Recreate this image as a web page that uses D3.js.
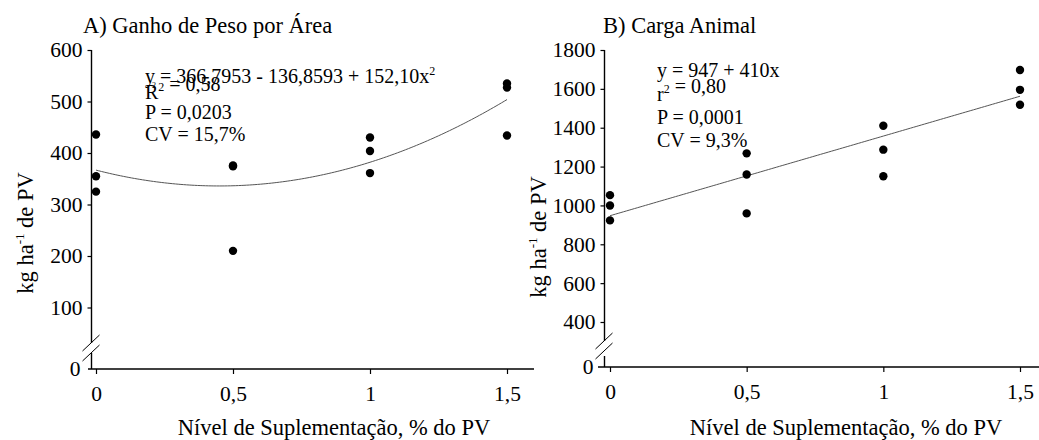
<!DOCTYPE html>
<html>
<head>
<meta charset="utf-8">
<script src="https://cdn.jsdelivr.net/npm/d3@7"></script>
<style>
  html, body { margin: 0; padding: 0; background: #fff; }
  svg { display: block; }
  svg text { font-family: "Liberation Serif", "Times New Roman", serif !important; fill: #000; }
</style>
</head>
<body>
<svg id="chart" width="1039" height="440"></svg>
<script>
// Supplementation level (% of live weight) for each paddock replicate
const suppLevels = [0, 0, 0, 0.5, 0.5, 0.5, 1, 1, 1, 1.5, 1.5, 1.5];
// A) live-weight gain per area, kg/ha
const weightGain = [436, 355, 325, 376, 374, 210, 430, 404, 361, 535, 527, 434];
// B) stocking rate, kg/ha of live weight
const stockingRate = [1053, 1000, 923, 1268, 1159, 959, 1410, 1287, 1150, 1697, 1595, 1518];

// Fitted regressions (coefficients of 1, x, x^2)
const gainCoef = [366.7953, -136.8593, 152.10];
const rateCoef = [947, 410];

// Axis ticks
const xTickValues = [0, 0.5, 1, 1.5];
const xTickLabels = ["0", "0,5", "1", "1,5"];
const gainTicks = [100, 200, 300, 400, 500, 600];
const rateTicks = [400, 600, 800, 1000, 1200, 1400, 1600, 1800];

// Annotation text
const gainTitle = "A) Ganho de Peso por Área";
const rateTitle = "B) Carga Animal";
const xTitle = "Nível de Suplementação, % do PV";

const svg = d3.select("#chart");
const TICK_FONT = 21.5;
const TITLE_FONT = 22.5;
const STAT_FONT = 20;

function poly(coef) {
  return x => coef.reduce((s, c, i) => s + c * Math.pow(x, i), 0);
}

function drawPanel(cfg) {
  const g = svg.append("g");
  const x = d3.scaleLinear().domain([0, 1.5]).range([cfg.x0, cfg.x1]);
  const y = d3.scaleLinear().domain(cfg.yDomain).range(cfg.yRange);

  // y axis ticks and labels
  const yAxis = d3.axisLeft(y).tickValues(cfg.yTicks).tickSize(4).tickPadding(5).tickFormat(d3.format("d"));
  const ya = g.append("g").attr("transform", `translate(${cfg.axisX},0)`).call(yAxis)
    .attr("font-family", null).attr("font-size", null);
  ya.select(".domain").remove();
  ya.selectAll("text").style("font-size", TICK_FONT + "px");
  ya.selectAll("line").attr("stroke", "#000").attr("stroke-width", 1.2);

  // "0" at the foot of the broken axis
  g.append("text").attr("x", cfg.axisX - 11).attr("y", cfg.baseY).attr("dy", "0.32em")
    .attr("text-anchor", "end").style("font-size", TICK_FONT + "px").text("0");

  // broken y axis line
  g.append("line").attr("x1", cfg.axisX).attr("x2", cfg.axisX)
    .attr("y1", cfg.yRange[1]).attr("y2", cfg.breakTop).attr("stroke", "#000").attr("stroke-width", 1.4);
  g.append("line").attr("x1", cfg.axisX).attr("x2", cfg.axisX)
    .attr("y1", cfg.breakBottom).attr("y2", cfg.baseY).attr("stroke", "#000").attr("stroke-width", 1.4);
  // break slashes
  [0, 10].forEach(off => {
    g.append("line")
      .attr("x1", cfg.axisX - 9).attr("y1", cfg.breakTop + 8 + off)
      .attr("x2", cfg.axisX + 8).attr("y2", cfg.breakTop - 8 + off)
      .attr("stroke", "#000").attr("stroke-width", 1);
  });

  // x axis
  const xAxis = d3.axisBottom(x).tickValues(xTickValues).tickSize(5).tickPadding(12)
    .tickFormat((d, i) => xTickLabels[i]);
  const xa = g.append("g").attr("transform", `translate(0,${cfg.baseY})`).call(xAxis)
    .attr("font-family", null).attr("font-size", null);
  xa.select(".domain").remove();
  xa.selectAll("text").style("font-size", TICK_FONT + "px");
  xa.selectAll("line").attr("stroke", "#000").attr("stroke-width", 1.2);
  g.append("line").attr("x1", cfg.xLineStart).attr("x2", cfg.xLineEnd)
    .attr("y1", cfg.baseY).attr("y2", cfg.baseY).attr("stroke", "#000").attr("stroke-width", 1.4);

  // fitted curve
  const f = poly(cfg.coef);
  const pts = d3.range(0, 1.5001, 0.01).map(v => [x(v), y(f(v))]);
  g.append("path").attr("d", d3.line()(pts)).attr("fill", "none")
    .attr("stroke", "#555").attr("stroke-width", 1);

  // observations
  g.selectAll("circle.obs").data(cfg.values).join("circle")
    .attr("class", "obs")
    .attr("cx", (d, i) => x(suppLevels[i]))
    .attr("cy", d => y(d))
    .attr("r", 4.2).attr("fill", "#000");

  // titles
  g.append("text").attr("x", cfg.titleX).attr("y", 33).style("font-size", TITLE_FONT + "px").text(cfg.title);
  g.append("text").attr("x", cfg.xTitleX).attr("y", 435).attr("text-anchor", "middle")
    .style("font-size", TITLE_FONT + "px").text(xTitle);
  const yt = g.append("text")
    .attr("transform", `translate(${cfg.axisX - 59},${cfg.yTitleY}) rotate(-90)`)
    .attr("text-anchor", "middle").style("font-size", TITLE_FONT + "px");
  yt.append("tspan").text("kg ha");
  yt.append("tspan").attr("dy", -9).style("font-size", "13px").text("-1");
  yt.append("tspan").attr("dy", 9).text(" de PV");

  // regression statistics
  const ann = g.append("g").attr("transform", `translate(${cfg.annX},0)`);
  cfg.annLines.forEach(l => {
    const t = ann.append("text").attr("y", l.y).style("font-size", STAT_FONT + "px");
    l.parts.forEach(p => {
      if (p.sup) {
        t.append("tspan").attr("dy", -8).style("font-size", "12px").text(p.sup);
        t.append("tspan").attr("dy", 8).text("");
      } else {
        t.append("tspan").text(p.t);
      }
    });
  });
  return { g, x, y };
}

const A = drawPanel({
  x0: 96, x1: 507, axisX: 91.5, baseY: 369,
  yDomain: [100, 600], yRange: [307.5, 50], yTicks: gainTicks,
  breakTop: 343, breakBottom: 353,
  xLineStart: 88, xLineEnd: 534,
  coef: gainCoef, values: weightGain,
  title: gainTitle, titleX: 83, yTitleY: 233, xTitleX: 334,
  annX: 145,
  annLines: [
    { y: 83, parts: [{ t: "y = 366,7953 - 136,8593 + 152,10x" }, { sup: "2" }] },
    { y: 99, parts: [{ t: "R" }, { sup: "2" }, { t: " = 0,58" }] },
    { y: 119, parts: [{ t: "P = 0,0203" }] },
    { y: 141, parts: [{ t: "CV = 15,7%" }] }
  ]
});
// small stray index under "y ="
A.g.append("text").attr("x", 152).attr("y", 88).style("font-size", "8px").text("2");

drawPanel({
  x0: 610, x1: 1020, axisX: 604.5, baseY: 367,
  yDomain: [400, 1800], yRange: [322, 50], yTicks: rateTicks,
  breakTop: 341, breakBottom: 356,
  xLineStart: 598, xLineEnd: 1039,
  coef: rateCoef, values: stockingRate,
  title: rateTitle, titleX: 603, yTitleY: 237, xTitleX: 846,
  annX: 657,
  annLines: [
    { y: 77, parts: [{ t: "y = 947 + 410x" }] },
    { y: 101, parts: [{ t: "r" }, { sup: "2" }, { t: " = 0,80" }] },
    { y: 124, parts: [{ t: "P = 0,0001" }] },
    { y: 147, parts: [{ t: "CV = 9,3%" }] }
  ]
});
</script>
</body>
</html>
